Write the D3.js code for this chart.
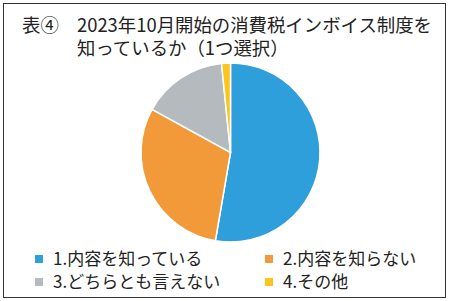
<!DOCTYPE html>
<html>
<head>
<meta charset="utf-8">
<script src="https://cdn.jsdelivr.net/npm/d3@7"></script>
<style>
  body { margin: 0; background: #fff; }
  text { font-family: "Noto Sans CJK JP", sans-serif; fill: #222; }
</style>
</head>
<body>
<div id="chart"></div>
<script>
// --- data ---
const categories = ["1.内容を知っている", "2.内容を知らない", "3.どちらとも言えない", "4.その他"];
const values = [52.7, 30.3, 15.4, 1.6];
const colors = ["#2f9fdc", "#f29a3a", "#b5babf", "#fcc51d"];
const titleNo = "表④";
const titleLines = ["2023年10月開始の消費税インボイス制度を", "知っているか（1つ選択）"];

const width = 450, height = 301;

const svg = d3.select("#chart").append("svg")
  .attr("width", width)
  .attr("height", height);

// frame
svg.append("rect")
  .attr("x", 3.5).attr("y", 3.5)
  .attr("width", 442).attr("height", 294)
  .attr("fill", "none")
  .attr("stroke", "#333")
  .attr("stroke-width", 1);

// title (one text, two lines)
const title = svg.append("text")
  .attr("y", 32)
  .style("font-size", "18.4px");

title.append("tspan")
  .attr("x", 22)
  .text(titleNo);

title.selectAll(".line")
  .data(titleLines)
  .enter().append("tspan")
  .attr("class", "line")
  .attr("x", 77)
  .attr("y", (d, i) => 32 + i * 23)
  .text(d => d);

// pie
const cx = 230.5, cy = 152.5, r = 89.5;
const pie = d3.pie().sort(null).value(d => d);
const arc = d3.arc().innerRadius(0).outerRadius(r);

const g = svg.append("g").attr("transform", `translate(${cx},${cy})`);
g.selectAll("path")
  .data(pie(values))
  .enter().append("path")
  .attr("d", arc)
  .attr("fill", (d, i) => colors[i])
  .attr("stroke", "#fff")
  .attr("stroke-width", 1.5);

// legend
const legend = svg.selectAll(".legend")
  .data(categories)
  .enter().append("g")
  .attr("class", "legend")
  .attr("transform", (d, i) => `translate(${i % 2 === 0 ? 35 : 265},${i < 2 ? 259 : 282})`);

legend.append("rect")
  .attr("x", 0).attr("y", -4)
  .attr("width", 8).attr("height", 8)
  .attr("fill", (d, i) => colors[i]);

legend.append("text")
  .attr("x", 18).attr("y", 6)
  .style("font-size", "17px")
  .text(d => d);
</script>
</body>
</html>
